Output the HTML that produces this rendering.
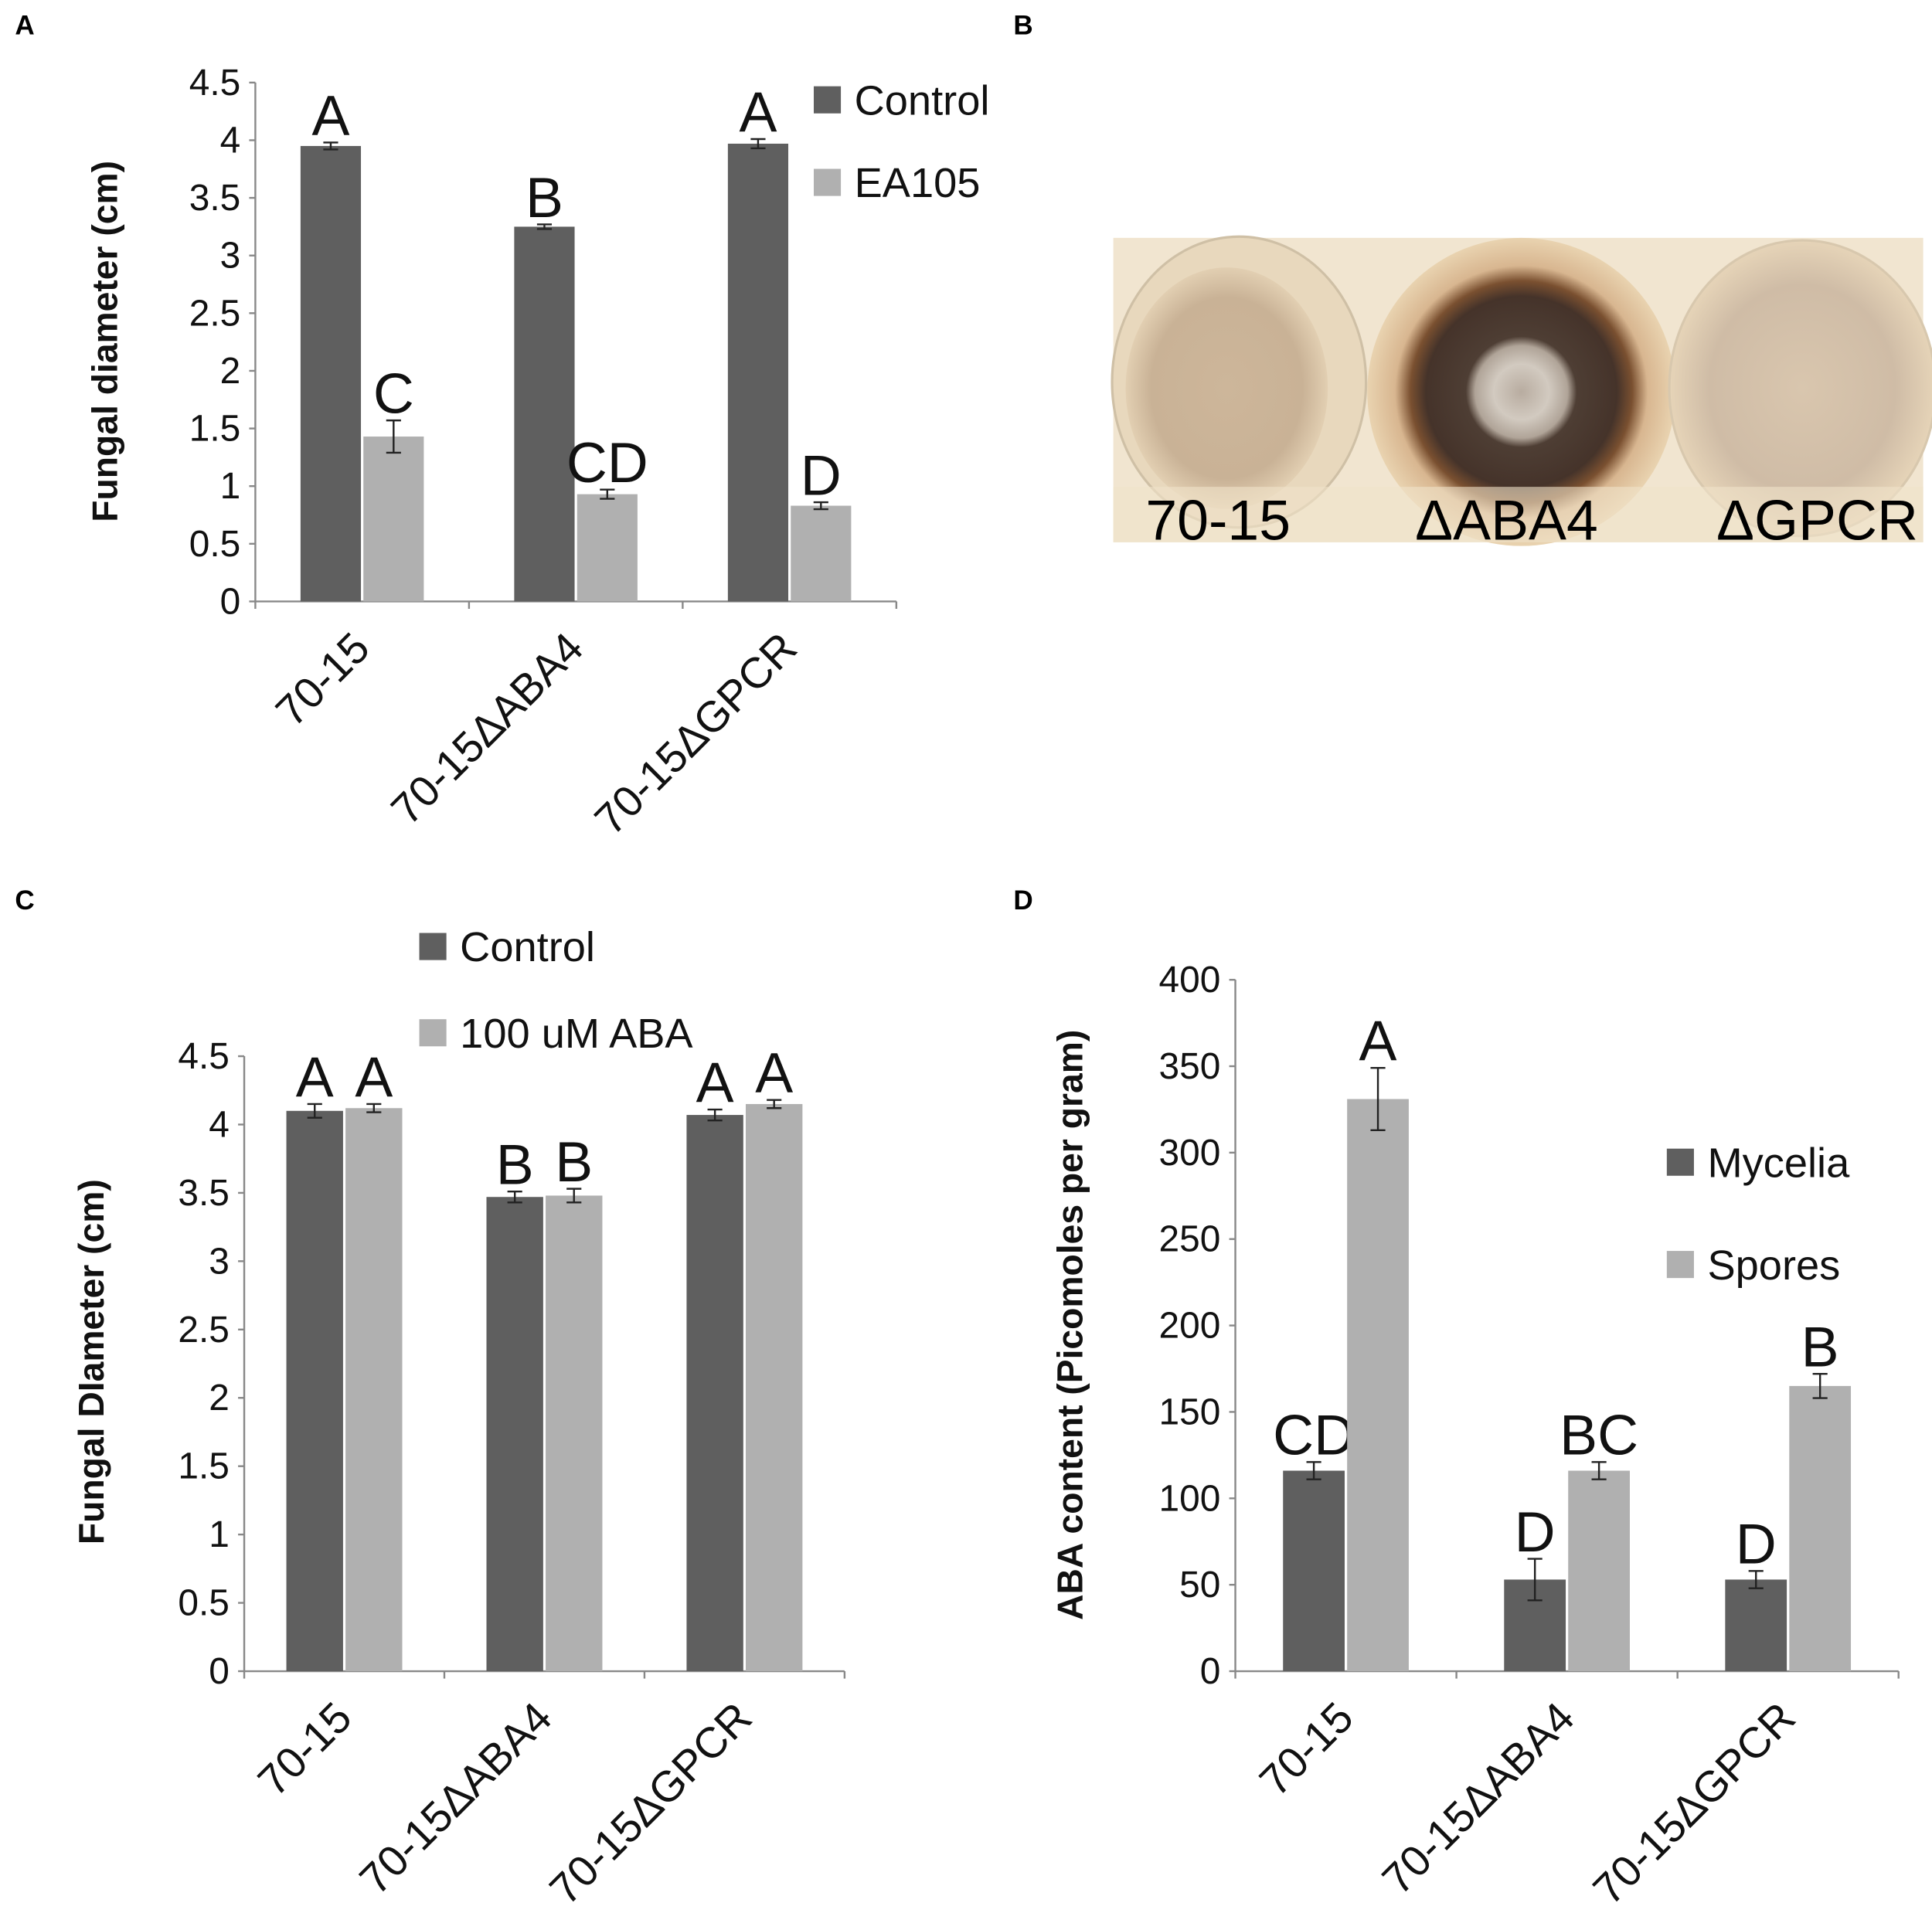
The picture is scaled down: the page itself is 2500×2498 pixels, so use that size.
<!DOCTYPE html>
<html><head><meta charset="utf-8">
<style>
html,body{margin:0;padding:0;background:#fff;}
svg{display:block;}
text{font-family:"Liberation Sans",sans-serif;}
</style></head>
<body>
<svg id="fig" width="2500" height="2498" viewBox="0 0 1567 1566" xmlns="http://www.w3.org/2000/svg">
<defs>
<radialGradient id="p1" cx="50%" cy="50%" r="50%"><stop offset="0" stop-color="#cdb69a"/><stop offset="0.75" stop-color="#c9b296"/><stop offset="1" stop-color="#e2cfb2"/></radialGradient>
<radialGradient id="p2" cx="50%" cy="50%" r="50%"><stop offset="0" stop-color="#b8aca0"/><stop offset="0.18" stop-color="#d2cac0"/><stop offset="0.3" stop-color="#b0a498"/><stop offset="0.36" stop-color="#4e3e34"/><stop offset="0.62" stop-color="#45332a"/><stop offset="0.72" stop-color="#7a5030"/><stop offset="0.82" stop-color="#d8b690"/><stop offset="1" stop-color="#e9d3b0"/></radialGradient>
<radialGradient id="p3" cx="50%" cy="50%" r="50%"><stop offset="0" stop-color="#d9c6ae"/><stop offset="0.7" stop-color="#cfbca6"/><stop offset="1" stop-color="#e6d4b8"/></radialGradient>
</defs>
<g font-weight="bold" font-size="22">
<text x="12" y="28">A</text>
<text x="822" y="28">B</text>
<text x="12" y="738">C</text>
<text x="822" y="738">D</text>
</g>
<g id="photo">
<rect x="903" y="193" width="657" height="247" fill="#f1e5d0"/>
<ellipse cx="1005" cy="310" rx="103" ry="118" fill="#e8d8bd" stroke="#cfc0a6" stroke-width="2"/>
<ellipse cx="995" cy="315" rx="82" ry="98" fill="url(#p1)"/>
<ellipse cx="1234" cy="318" rx="125" ry="125" fill="url(#p2)"/>
<ellipse cx="1462" cy="315" rx="108" ry="120" fill="url(#p3)" stroke="#d8c8ae" stroke-width="2"/>
<rect x="903" y="395" width="657" height="45" fill="#f0e2ca" opacity="0.6"/>
<text x="988" y="438" font-size="46" text-anchor="middle">70-15</text>
<text x="1222" y="438" font-size="46" text-anchor="middle">ΔABA4</text>
<text x="1474" y="438" font-size="46" text-anchor="middle">ΔGPCR</text>
</g>
</svg>
<script>
const NS="http://www.w3.org/2000/svg";
const fig=document.getElementById('fig');
const categories=["70-15","70-15ΔABA4","70-15ΔGPCR"];
// Panel A
const aControl=[3.95,3.25,3.97], aControlErr=[0.03,0.02,0.04];
const aEA=[1.43,0.93,0.83], aEAErr=[0.14,0.04,0.03];
const aLettersC=["A","B","A"], aLettersE=["C","CD","D"];
const aTicks=["0","0.5","1","1.5","2","2.5","3","3.5","4","4.5"];
// Panel C
const cControl=[4.10,3.47,4.07], cControlErr=[0.05,0.04,0.04];
const cABA=[4.12,3.48,4.15], cABAErr=[0.03,0.05,0.03];
const cLettersC=["A","B","A"], cLettersE=["A","B","A"];
const cTicks=["0","0.5","1","1.5","2","2.5","3","3.5","4","4.5"];
// Panel D
const dMycelia=[116,53,53], dMyceliaErr=[5,12,5];
const dSpores=[331,116,165], dSporesErr=[18,5,7];
const dLettersM=["CD","D","D"], dLettersS=["A","BC","B"];
const dTicks=["0","50","100","150","200","250","300","350","400"];

function el(tag,attrs,parent){const e=document.createElementNS(NS,tag);for(const k in attrs)e.setAttribute(k,attrs[k]);(parent||fig).appendChild(e);return e;}

function chart(cfg){
  const g=el('g',{});
  
  
  const ticks=cfg.ticks.map(Number);
  const maxV=ticks[ticks.length-1];
  const y=v=>cfg.y0-(v/maxV)*(cfg.y0-cfg.yTop);
  const gw=(cfg.x1-cfg.x0)/categories.length;
  const ax=el('line',{x1:cfg.x0,y1:cfg.yTop,x2:cfg.x0,y2:cfg.y0,stroke:'#888','stroke-width':1.5},g);
  
  const bx=el('line',{x1:cfg.x0,y1:cfg.y0,x2:cfg.x1,y2:cfg.y0,stroke:'#888','stroke-width':1.5},g);
  
  cfg.ticks.forEach((t,i)=>{
    const yy=y(ticks[i]);
    el('line',{x1:cfg.x0-5,y1:yy,x2:cfg.x0,y2:yy,stroke:'#888','stroke-width':1.5},g);
    const tx=el('text',{x:cfg.x0-12,y:yy+10,'font-size':30,'text-anchor':'end',fill:'#111'},g);
    tx.textContent=t;
    
    
  });
  for(let i=0;i<=categories.length;i++){
    const xx=cfg.x0+i*gw;
    el('line',{x1:xx,y1:cfg.y0,x2:xx,y2:cfg.y0+6,stroke:'#888','stroke-width':1.5},g);
  }
  categories.forEach((c,i)=>{
    const cx=cfg.x0+gw*(i+0.5);
    const lx=cx+8, ly=cfg.y0+40;
    const t=el('text',{x:lx,y:ly,'font-size':35,'text-anchor':'end',transform:`rotate(-45 ${lx} ${ly})`,fill:'#111'},g);
    t.textContent=c;
    
    
    const series=[[cfg.s1,cfg.e1,'#5f5f5f',cfg.l1,-1],[cfg.s2,cfg.e2,'#b0b0b0',cfg.l2,0]];
    series.forEach(([s,e,col,L,off])=>{
      const bxp=cx+off*cfg.bw+(off===0?1:-1);
      const r=el('rect',{x:bxp,y:y(s[i]),width:cfg.bw,height:cfg.y0-y(s[i]),fill:col},g);
      
      
      const mx=bxp+cfg.bw/2, yh=y(s[i]+e[i]), yl=y(s[i]-e[i]);
      el('path',{d:`M${mx} ${yh}V${yl}M${mx-6} ${yh}H${mx+6}M${mx-6} ${yl}H${mx+6}`,stroke:'#222','stroke-width':1.5,fill:'none'},g);
      const lt=el('text',{x:mx,y:yh-6,'font-size':46,'text-anchor':'middle',fill:'#111'},g);
      lt.textContent=L[i];
      
      
    });
  });
  cfg.legend.forEach(([lab,col,lx,ly])=>{
    const sq=el('rect',{x:lx,y:ly,width:22,height:22,fill:col},g);
    
    
    const t=el('text',{x:lx+33,y:ly+23,'font-size':34,fill:'#111'},g);
    t.textContent=lab;
    
    
  });
  const tt=el('text',{x:cfg.titleX,y:cfg.titleY,'font-size':29,'font-weight':'bold','text-anchor':'middle',transform:`rotate(-90 ${cfg.titleX} ${cfg.titleY})`,fill:'#111'},g);
  tt.textContent=cfg.title;
  
  
}
chart({name:'chart-a',x0:207,x1:727,y0:488,yTop:67,ticks:aTicks,bw:49,s1:aControl,e1:aControlErr,s2:aEA,e2:aEAErr,l1:aLettersC,l2:aLettersE,
  legend:[['Control','#5f5f5f',660,70],['EA105','#b0b0b0',660,137]],title:'Fungal diameter (cm)',titleX:95,titleY:277});
chart({name:'chart-c',x0:198,x1:685,y0:1356,yTop:857,ticks:cTicks,bw:46,s1:cControl,e1:cControlErr,s2:cABA,e2:cABAErr,l1:cLettersC,l2:cLettersE,
  legend:[['Control','#5f5f5f',340,757],['100 uM ABA','#b0b0b0',340,827]],title:'Fungal DIameter (cm)',titleX:84,titleY:1105});
chart({name:'chart-d',x0:1002,x1:1540,y0:1356,yTop:795,ticks:dTicks,bw:50,s1:dMycelia,e1:dMyceliaErr,s2:dSpores,e2:dSporesErr,l1:dLettersM,l2:dLettersS,
  legend:[['Mycelia','#5f5f5f',1352,932],['Spores','#b0b0b0',1352,1015]],title:'ABA content (Picomoles per gram)',titleX:878,titleY:1075});
</script>
</body></html>
